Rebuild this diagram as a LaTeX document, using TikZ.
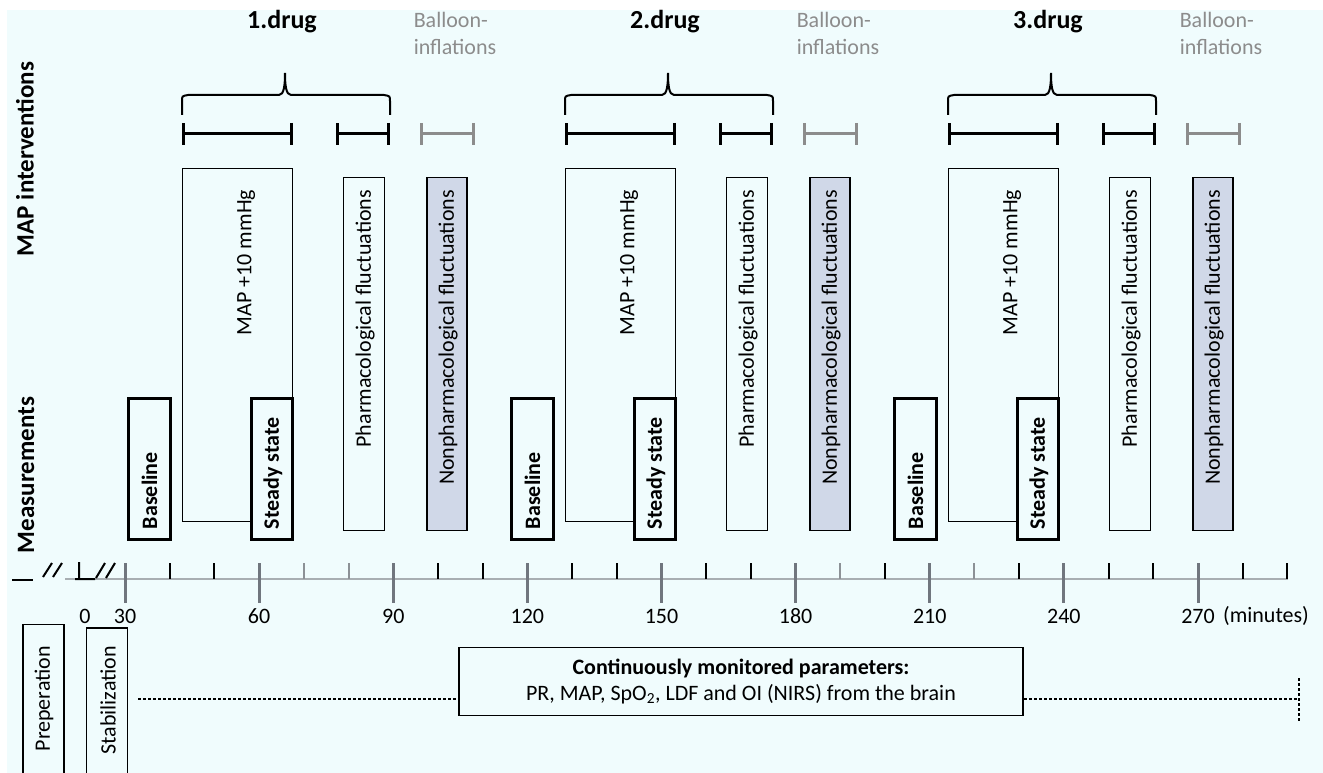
\documentclass[tikz,border=0pt]{standalone}
\usepackage{fontspec}
\setmainfont{Carlito}
\usetikzlibrary{positioning,arrows.meta}
\definecolor{paper}{RGB}{240,252,253}
\definecolor{nonphfill}{RGB}{208,216,232}
\definecolor{balloongray}{RGB}{140,140,140}
\definecolor{axisgray}{RGB}{168,174,178}
\definecolor{minorgray}{RGB}{140,145,150}
\definecolor{majorgray}{RGB}{112,118,126}
\tikzset{box/.style={draw,line width=1.5pt,inner sep=0pt,fill=paper},
        measbox/.style={box,line width=3.5pt},
        nonphbox/.style={box,fill=nonphfill},
        vlabel/.style={rotate=90,inner sep=0pt},
        measlabel/.style={vlabel,font=\fontsize{22}{26}\selectfont\bfseries},
        intervalbar/.style={line width=3pt,{Bar[width=22pt]}-{Bar[width=22pt]}},
        bracket/.style={line width=2pt},
        druglabel/.style={font=\fontsize{26}{30}\selectfont\bfseries,inner sep=0pt},
        balloonlabel/.style={font=\fontsize{22}{27}\selectfont,text=balloongray,
          align=left,inner sep=0pt},
        sidelabel/.style={rotate=90,font=\fontsize{25}{30}\selectfont\bfseries,
          inner sep=0pt},
        ticklabel/.style={inner sep=0pt},
        monitor/.style={line width=1.5pt,densely dashed}}
\newcommand{\drugblock}[3]{%
  \begin{scope}[xshift=#1pt]
    %% brace over the drug interventions
    \draw[bracket] (182,115) -- (182,101) .. controls (182,96) .. (188,95)
        -- (279,95) .. controls (284,95) and (285,85) .. (285,73)
        .. controls (285,85) and (286,95) .. (291,95)
        -- (384,95) .. controls (390,96) .. (390,101) -- (390,115);
    \node[druglabel] (drug#2) at (282,22) {#3};
    \node[balloonlabel] (balloon#2) at (455,33) {Balloon-\\inflations};
    %% intervals
    \draw[intervalbar] (182,134) -- (293,134);
    \draw[intervalbar] (336,134) -- (390,134);
    \draw[intervalbar,balloongray] (420,134) -- (475,134);
    %% interventions
    \node[box,minimum width=110pt,minimum height=353pt] (map#2) at (237.5,345) {};
    \node[vlabel,anchor=east] (maptext#2) at ([xshift=8.5pt,yshift=-22pt]map#2.north)
        {MAP +10 mmHg};
    \node[box,minimum width=41pt,minimum height=353pt] (pharm#2) at (364,354) {};
    \node[vlabel,anchor=east] (pharmtext#2) at ([xshift=1pt,yshift=-13pt]pharm#2.north)
        {Pharmacological fluctuations};
    \node[nonphbox,minimum width=40pt,minimum height=353pt] (nonph#2) at (447,354) {};
    \node[vlabel,anchor=east] (nonphtext#2) at ([xshift=1pt,yshift=-13pt]nonph#2.north)
        {Nonpharmacological fluctuations};
    %% measurements
    \node[measbox,minimum width=42pt,minimum height=141pt] (base#2) at (149.5,469) {};
    \node[measlabel,anchor=west] (basetext#2) at ([yshift=12pt]base#2.south) {Baseline};
    \node[measbox,minimum width=41pt,minimum height=141pt] (steady#2) at (272,469) {};
    \node[measlabel,anchor=west] (steadytext#2) at ([xshift=1pt,yshift=12pt]steady#2.south)
        {Steady state};
  \end{scope}}

\begin{document}
\begin{tikzpicture}[x=1pt,y=-1pt,font=\fontsize{22}{26}\selectfont]
  \useasboundingbox (0,0) rectangle (1323,773);
  \clip (0,0) rectangle (1323,773);
  \fill[paper] (7,10) rectangle (1323,773);
  %% row titles
  \node[sidelabel] (interventions) at (25,159) {MAP interventions};
  \node[sidelabel] (measurements) at (26,475) {Measurements};
  %% the three drugs
  \drugblock{0}{1}{1.drug}
  \drugblock{383}{2}{2.drug}
  \drugblock{766}{3}{3.drug}
  %% time axis
  \draw[axisgray,line width=2.5pt] (65,579) -- (1288,579);
  \draw[line width=2.5pt] (12,580) -- (33,580);
  \draw[line width=2pt] (43,577) -- (52,563) (53,577) -- (62,563)
                        (96,578) -- (105,563) (106,578) -- (115,563)
                        (79,562) -- (79,579) (75,579) -- (95,579);
  \foreach \t in {40,50,100,110,130,140,160,170,200,230,250,260,280,290}
    \draw[line width=2pt] ({125+(\t-30)*4.4708},563) -- ++(0,16);
  \foreach \t in {70,80,190,220}
    \draw[line width=2pt,minorgray] ({125+(\t-30)*4.4708},563) -- ++(0,16);
  \foreach \t in {30,60,...,270}
    \draw[line width=3pt,majorgray] ({125+(\t-30)*4.4708},563) -- ++(0,40);
  \foreach \t in {30,60,...,270}
    \node[ticklabel] (lab\t) at ({125+(\t-30)*4.4708},616) {\t};
  \node[ticklabel] (lab0) at (85,616) {0};
  \node[ticklabel,right=8pt of lab270] (minutes) {(minutes)};
  %% before the start
  \node[box,minimum width=41pt,minimum height=165pt] (prep) at (43.5,707) {};
  \node[vlabel,anchor=east] (preptext) at (44,646) {Preperation};
  \node[box,minimum width=41pt,minimum height=162pt] (stab) at (107,709) {};
  \node[vlabel,anchor=east] (stabtext) at (108,646) {Stabilization};
  %% monitoring
  \node[box,minimum width=564pt,minimum height=68pt,align=center,
        font=\fontsize{22}{26}\selectfont] (cont) at (741,681.5)
       {\textbf{Continuously monitored parameters:}\\
        PR, MAP, SpO\textsubscript{2}, LDF and OI (NIRS) from the brain};
  \coordinate (dstart) at (138,699);
  \coordinate (dend) at (1299,699);
  \draw[monitor] (dstart) -- (dstart -| cont.west);
  \draw[monitor] (cont.east |- dend) -- (dend);
  \draw[monitor] (1299,678) -- (1299,722);
\end{tikzpicture}
\end{document}
